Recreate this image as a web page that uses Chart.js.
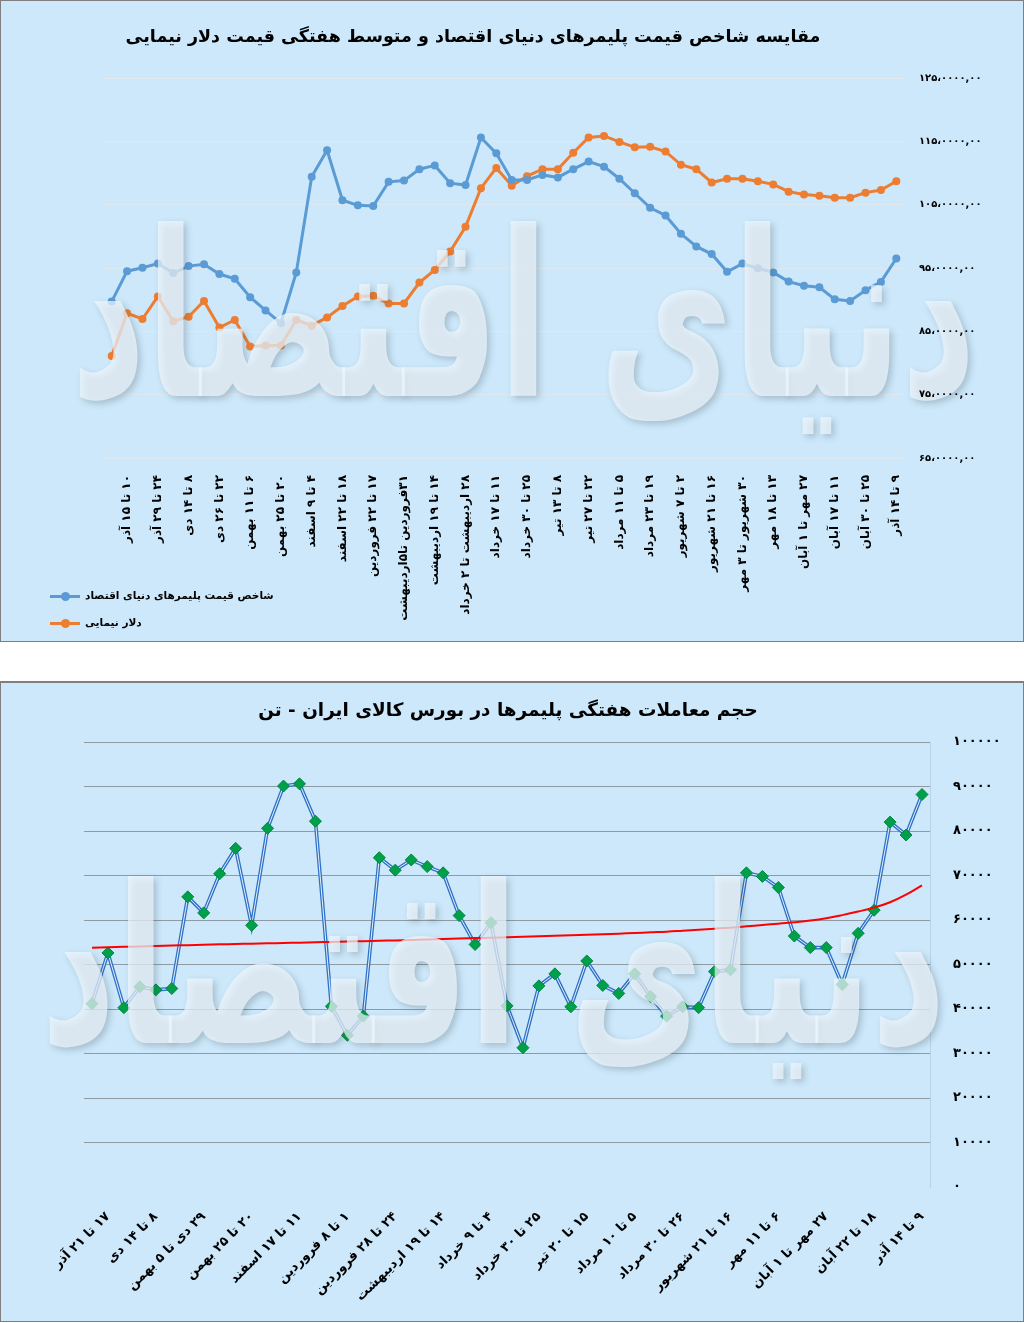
<!DOCTYPE html>
<html lang="fa">
<head>
<meta charset="utf-8">
<script src="https://cdn.jsdelivr.net/npm/chart.js@4.4.1/dist/chart.umd.min.js"></script>
<style>
    body {
        margin: 0;
        width: 1024px;
        height: 1323px;
        position: relative;
        background: #ffffff;
        font-family: "DejaVu Sans", sans-serif;
    }
    div.box {
        position: absolute;
        left: 0;
        width: 1022px;
        background-color: #cce8fa;
        border: 1px solid #7f7f7f;
    }
    #box1 { top: 0; height: 640px; }
    #box2 { top: 681px; height: 638px; border-width: 2px 1px 1px 1px; }
    div.box canvas { position: absolute; left: 0; top: 0; }
    div.title {
        position: absolute;
        text-align: center;
        font-weight: bold;
        color: #000;
        white-space: nowrap;
    }
    div.legend {
        position: absolute;
        left: 49px;
        top: 583px;
        font-size: 10.5px;
        font-weight: bold;
    }
    div.legend .item { height: 27px; line-height: 22px; white-space: nowrap; }
    div.legend .mk {
        display: inline-block;
        position: relative;
        width: 30px;
        height: 3px;
        vertical-align: middle;
        margin-right: 5px;
    }
    div.legend .mk::after {
        content: "";
        position: absolute;
        left: 11px;
        top: -3px;
        width: 9px;
        height: 9px;
        border-radius: 50%;
        background: inherit;
    }
</style>
</head>
<body>

<div class="box" id="box1">
    <canvas id="priceChart" width="1022" height="640" dir="rtl"></canvas>
    <div class="title" style="left:0; width:944px; top:25px; font-size:17.5px;" dir="rtl">مقایسه شاخص قیمت پلیمرهای دنیای اقتصاد و متوسط هفتگی قیمت دلار نیمایی</div>
    <div class="legend">
        <div class="item"><span class="mk" style="background:#5b9bd5"></span><span dir="rtl">شاخص قیمت پلیمرهای دنیای اقتصاد</span></div>
        <div class="item"><span class="mk" style="background:#ed7d31"></span><span dir="rtl">دلار نیمایی</span></div>
    </div>
</div>

<div class="box" id="box2">
    <canvas id="volumeChart" width="1022" height="638" dir="rtl"></canvas>
    <div class="title" style="left:0; width:1014px; top:16px; font-size:18.4px;" dir="rtl">حجم معاملات هفتگی پلیمرها در بورس کالای ایران - تن</div>
</div>

<script>
// ---- chart 1: weekly polymer price index vs nima dollar ----
var priceWeeks = ['', '۱۰ تا ۱۵ آذر', '', '۲۴ تا ۲۹ آذر', '', '۸ تا ۱۴ دی', '', '۲۲ تا ۲۶ دی',
    '', '۶ تا ۱۱ بهمن', '', '۲۰ تا ۲۵ بهمن', '', '۴ تا ۹ اسفند', '', '۱۸ تا ۲۲ اسفند',
    '', '۱۷ تا ۲۲ فروردین', '', '۳۱فروردین تا۵اردیبهشت', '', '۱۴ تا ۱۹ اردیبهشت', '', '۲۸ اردیبهشت تا ۲ خرداد',
    '', '۱۱ تا ۱۷ خرداد', '', '۲۵ تا ۳۰ خرداد', '', '۸ تا ۱۳ تیر', '', '۲۲ تا ۲۷ تیر',
    '', '۵ تا ۱۱ مرداد', '', '۱۹ تا ۲۳ مرداد', '', '۲ تا ۷ شهریور', '', '۱۶ تا ۲۱ شهریور',
    '', '۳۰ شهریور تا ۳ مهر', '', '۱۳ تا ۱۸ مهر', '', '۲۷ مهر تا ۱ آبان', '', '۱۱ تا ۱۷ آبان',
    '', '۲۵ تا ۳۰ آبان', '', '۹ تا ۱۴ آذر'];

var polymerIndex = [89700000, 94500000, 95050000, 95700000, 94200000, 95300000, 95600000, 94050000,
    93300000, 90400000, 88300000, 86300000, 94300000, 109400000, 113600000, 105700000,
    104900000, 104800000, 108600000, 108800000, 110600000, 111200000, 108400000, 108100000,
    115600000, 113100000, 108900000, 108900000, 109700000, 109300000, 110600000, 111800000,
    111000000, 109100000, 106800000, 104500000, 103300000, 100400000, 98400000, 97200000,
    94400000, 95700000, 94950000, 94300000, 92850000, 92200000, 91950000, 90050000,
    89800000, 91500000, 92800000, 96500000];

var nimaDollar = [81100000, 87850000, 86950000, 90500000, 86600000, 87300000, 89800000, 85600000,
    86800000, 82600000, 82750000, 82750000, 86800000, 85900000, 87200000, 89000000,
    90500000, 90600000, 89400000, 89400000, 92700000, 94700000, 97600000, 101500000,
    107600000, 110800000, 108000000, 109500000, 110600000, 110600000, 113200000, 115600000,
    115850000, 114900000, 114050000, 114150000, 113400000, 111300000, 110600000, 108500000,
    109100000, 109100000, 108700000, 108200000, 107050000, 106600000, 106400000, 106100000,
    106100000, 106900000, 107300000, 108700000];

var priceTicks = ['۶۵،۰۰۰۰,۰۰', '۷۵،۰۰۰۰,۰۰', '۸۵،۰۰۰۰,۰۰', '۹۵،۰۰۰۰,۰۰',
    '۱۰۵،۰۰۰۰,۰۰', '۱۱۵،۰۰۰۰,۰۰', '۱۲۵،۰۰۰۰,۰۰'];

// ---- chart 2: weekly trading volume, tonnes ----
var volumeWeeks = ['', '۱۷ تا ۲۱ آذر', '', '', '۸ تا ۱۴ دی', '', '', '۲۹ دی تا ۵ بهمن',
    '', '', '۲۰ تا ۲۵ بهمن', '', '', '۱۱ تا ۱۷ اسفند', '', '', '۱ تا ۸ فروردین',
    '', '', '۲۴ تا ۲۸ فروردین', '', '', '۱۴ تا ۱۹ اردیبهشت', '', '', '۴ تا ۹ خرداد',
    '', '', '۲۵ تا ۳۰ خرداد', '', '', '۱۵ تا ۲۰ تیر', '', '', '۵ تا ۱۰ مرداد',
    '', '', '۲۶ تا ۳۰ مرداد', '', '', '۱۶ تا ۲۱ شهریور', '', '', '۶ تا ۱۱ مهر',
    '', '', '۲۷ مهر تا ۱ آبان', '', '', '۱۸ تا ۲۲ آبان', '', '', '۹ تا ۱۴ آذر'];

var volumeTons = [41200, 52600, 40300, 45000, 44300, 44600, 65200, 61600, 70400, 76100,
    58800, 80600, 90100, 90600, 82200, 40600, 34100, 38400, 74000, 71200,
    73500, 72000, 70600, 61000, 54500, 59400, 40700, 31300, 45200, 47900,
    40500, 50800, 45300, 43500, 47900, 42800, 38400, 40500, 40300, 48400,
    48800, 70600, 69800, 67300, 56400, 53800, 53800, 45500, 57000, 62200,
    82000, 79100, 88200];

var volumeTrend = [53780, 53870, 53970, 54060, 54160, 54250, 54350, 54440, 54540, 54610,
    54690, 54760, 54840, 54910, 54990, 55070, 55160, 55240, 55330, 55410,
    55500, 55610, 55730, 55830, 55930, 56030, 56130, 56230, 56330, 56440,
    56550, 56660, 56780, 56930, 57080, 57230, 57380, 57600, 57830, 58050,
    58280, 58570, 58880, 59180, 59500, 59880, 60400, 61100, 61900, 62800,
    64000, 65700, 67800];

var volumeTicks = ['۰', '۱۰۰۰۰', '۲۰۰۰۰', '۳۰۰۰۰', '۴۰۰۰۰', '۵۰۰۰۰',
    '۶۰۰۰۰', '۷۰۰۰۰', '۸۰۰۰۰', '۹۰۰۰۰', '۱۰۰۰۰۰'];

var watermark = {
    id: 'watermark',
    afterDatasetsDraw: function(chart, args, opts) {
        var ctx = chart.ctx;
        ctx.save();
        ctx.direction = 'rtl';
        ctx.font = 'bold 200px "DejaVu Sans"';
        ctx.textAlign = 'left';
        ctx.textBaseline = 'alphabetic';
        var w = ctx.measureText(opts.text).width;
        ctx.translate(opts.x, opts.y);
        ctx.scale(opts.w / w, opts.sy);
        ctx.shadowColor = 'rgba(60,70,80,0.35)';
        ctx.shadowBlur = 6;
        ctx.shadowOffsetX = 3;
        ctx.shadowOffsetY = 3;
        ctx.fillStyle = 'rgba(238,246,253,0.72)';
        ctx.fillText(opts.text, 0, 0);
        ctx.restore();
    }
};

var ctx1 = document.getElementById('priceChart').getContext('2d');
var priceChart = new Chart(ctx1, {
    type: 'line',
    data: {
        labels: priceWeeks,
        datasets: [
            {
                label: 'شاخص قیمت پلیمرهای دنیای اقتصاد',
                data: polymerIndex,
                borderColor: '#5b9bd5',
                backgroundColor: '#5b9bd5',
                borderWidth: 3,
                pointRadius: 4,
                pointBorderWidth: 0,
                tension: 0
            },
            {
                label: 'دلار نیمایی',
                data: nimaDollar,
                borderColor: '#ed7d31',
                backgroundColor: '#ed7d31',
                borderWidth: 3,
                pointRadius: 4,
                pointBorderWidth: 0,
                tension: 0
            }
        ]
    },
    options: {
        responsive: false,
        animation: false,
        devicePixelRatio: 1,
        layout: { padding: { left: 103, top: 77, right: 0, bottom: 0 } },
        plugins: {
            legend: { display: false },
            tooltip: { enabled: false },
            watermark: { text: 'دنیای اقتصاد', x: 70, y: 395, w: 905, sy: 1.15 }
        },
        scales: {
            x: {
                offset: true,
                grid: { display: false },
                border: { display: false },
                ticks: {
                    autoSkip: false,
                    minRotation: 90,
                    maxRotation: 90,
                    padding: 9,
                    color: '#000',
                    font: { family: 'DejaVu Sans', size: 12, weight: 'bold' },
                    callback: function(v, i) { return priceWeeks[i]; }
                },
                afterFit: function(s) { s.height = 183; }
            },
            y: {
                position: 'right',
                min: 65000000,
                max: 125000000,
                grid: { color: '#dfe8ef', drawTicks: false },
                border: { display: false },
                ticks: {
                    stepSize: 10000000,
                    padding: 15,
                    z: 1,
                    color: '#000',
                    font: { family: 'DejaVu Sans', size: 10, weight: 'bold' },
                    callback: function(v, i) { return priceTicks[i]; }
                },
                afterFit: function(s) { s.width = 119; }
            }
        }
    },
    plugins: [watermark]
});

var ctx2 = document.getElementById('volumeChart').getContext('2d');
var volumeChart = new Chart(ctx2, {
    type: 'line',
    data: {
        labels: volumeWeeks,
        datasets: [
            {
                label: 'trend',
                data: volumeTrend,
                borderColor: '#ff0000',
                borderWidth: 2,
                pointRadius: 0,
                tension: 0.4
            },
            {
                label: 'حجم معاملات',
                data: volumeTons,
                borderColor: '#e8f2fb',
                backgroundColor: '#00a04a',
                borderWidth: 1,
                pointStyle: 'rectRot',
                pointRadius: 6,
                pointBorderColor: '#00873d',
                pointBorderWidth: 1,
                tension: 0
            },
            {
                label: 'outline',
                data: volumeTons,
                borderColor: '#2f72c8',
                borderWidth: 3.6,
                pointRadius: 0,
                tension: 0
            }
        ]
    },
    options: {
        responsive: false,
        animation: false,
        devicePixelRatio: 1,
        layout: { padding: { left: 83, top: 59, right: 0, bottom: 0 } },
        plugins: {
            legend: { display: false },
            tooltip: { enabled: false },
            watermark: { text: 'دنیای اقتصاد', x: 40, y: 360, w: 905, sy: 1.1 }
        },
        scales: {
            x: {
                offset: true,
                grid: { display: false },
                border: { display: false },
                ticks: {
                    autoSkip: false,
                    minRotation: 45,
                    maxRotation: 45,
                    padding: 14,
                    color: '#000',
                    font: { family: 'DejaVu Sans', size: 13, weight: 'bold' },
                    callback: function(v, i) { return volumeWeeks[i]; }
                },
                afterFit: function(s) { s.height = 134; }
            },
            y: {
                position: 'right',
                min: 0,
                max: 100000,
                grid: {
                    drawTicks: false,
                    color: function(c) { return c.tick.value === 0 ? 'rgba(0,0,0,0)' : '#8f9aa3'; }
                },
                border: { display: true, color: '#b9d3e6' },
                ticks: {
                    stepSize: 10000,
                    padding: 23,
                    z: 1,
                    color: '#000',
                    font: { family: 'DejaVu Sans', size: 13, weight: 'bold' },
                    callback: function(v, i) { return volumeTicks[i]; }
                },
                afterFit: function(s) { s.width = 93; }
            }
        }
    },
    plugins: [watermark]
});
</script>
</body>
</html>
